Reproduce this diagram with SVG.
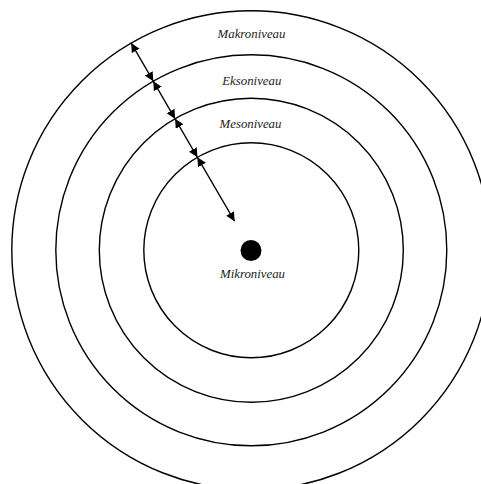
<svg xmlns="http://www.w3.org/2000/svg" width="481" height="484" viewBox="0 0 481 484">
<style>
.ring{fill:none;stroke:#000;stroke-width:1.4}
.lbl{font-style:italic;font-size:12.8px;fill:#222;text-anchor:middle}
.arr{stroke:#000;stroke-width:1.3;fill:none;marker-start:url(#ah);marker-end:url(#ah)}
</style>
<defs>
<marker id="ah" viewBox="0 0 10 10" refX="10" refY="5" markerWidth="9" markerHeight="9" markerUnits="userSpaceOnUse" orient="auto-start-reverse">
<path d="M0,0 L10,5 L0,10 Z" fill="#000"/>
</marker>
</defs>
<rect width="481" height="484" fill="#fff"/>
<g id="makroniveau">
<circle class="ring" cx="251.3" cy="250.3" r="239.5"/>
<text class="lbl" font-family="Liberation Serif, serif" x="251.5" y="38.3">Makroniveau</text>
</g>
<g id="eksoniveau">
<circle class="ring" cx="251.3" cy="250.3" r="195.5"/>
<text class="lbl" font-family="Liberation Serif, serif" x="251.8" y="85">Eksoniveau</text>
</g>
<g id="mesoniveau">
<circle class="ring" cx="251.3" cy="250.3" r="152"/>
<text class="lbl" font-family="Liberation Serif, serif" x="250.5" y="127.7">Mesoniveau</text>
</g>
<g id="mikroniveau">
<circle class="ring" cx="251.3" cy="250.3" r="107.5"/>
<circle cx="251" cy="250.5" r="10.5" fill="#000"/>
<text class="lbl" font-family="Liberation Serif, serif" x="252.5" y="278">Mikroniveau</text>
</g>
<g id="connectors">
<line class="arr" x1="131.2" y1="43.1" x2="153.3" y2="81.2"/>
<line class="arr" x1="153.3" y1="81.2" x2="175.1" y2="118.8"/>
<line class="arr" x1="175.1" y1="118.8" x2="197.4" y2="157.3"/>
<line class="arr" x1="197.4" y1="157.3" x2="234.6" y2="221.2"/>
</g>
</svg>
